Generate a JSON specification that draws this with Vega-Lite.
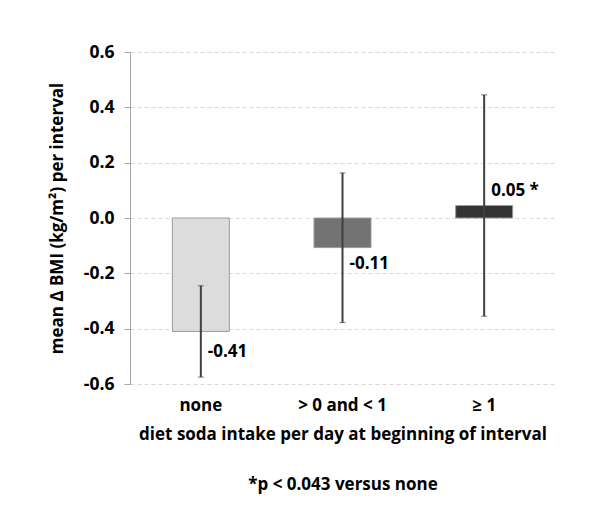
{
  "$schema": "https://vega.github.io/schema/vega-lite/v6.json",
  "width": 425,
  "height": 332,
  "autosize": {"type": "none"},
  "padding": {"left": 130, "top": 52, "right": 45, "bottom": 130},
  "background": "white",
  "config": {
    "view": {"stroke": null},
    "font": "Open Sans",
    "axis": {"labelFont": "Open Sans", "titleFont": "Open Sans", "labelFontWeight": "bold", "titleFontWeight": "bold", "labelColor": "#000", "titleColor": "#000"}
  },
  "data": {
    "values": [
      {"cat": "none", "value": -0.41, "lo": -0.575, "hi": -0.245, "label": "-0.41", "label_y": -0.485},
      {"cat": "> 0 and < 1", "value": -0.107, "lo": -0.378, "hi": 0.163, "label": "-0.11", "label_y": -0.167},
      {"cat": "≥ 1", "value": 0.045, "lo": -0.355, "hi": 0.445, "label": "0.05 *", "label_y": 0.098}
    ]
  },
  "encoding": {
    "x": {
      "field": "cat", "type": "nominal", "sort": null,
      "scale": {"paddingInner": 0, "paddingOuter": 0},
      "axis": {
        "labelAngle": 0, "labelFontSize": 17, "labelPadding": 13, "ticks": false, "tickSize": 0, "domain": false,
        "title": ["diet soda intake per day at beginning of interval", "*p < 0.043 versus none"],
        "titleFontSize": 17, "titlePadding": 13, "titleLineHeight": 50
      }
    }
  },
  "layer": [
    {
      "mark": {"type": "bar", "size": 57, "stroke": "#9a9a9a", "strokeWidth": 1},
      "encoding": {
        "y": {
          "field": "value", "type": "quantitative",
          "scale": {"domain": [-0.6, 0.6], "nice": false, "zero": false},
          "title": "mean Δ BMI (kg/m²) per interval",
          "axis": {
            "values": [-0.6, -0.4, -0.2, 0, 0.2, 0.4, 0.6],
            "labelExpr": "replace(format(datum.value, '.1f'), '\u2212', '-')",
            "labelFontSize": 17.5, "labelPadding": 10, "tickSize": 6, "tickColor": "#a6a6a6",
            "domainColor": "#a6a6a6", "grid": true, "gridDash": [4, 3], "gridColor": "#d9d9d9",
            "titleFontSize": 17, "titlePadding": 17
          }
        },
        "fill": {
          "field": "cat", "type": "nominal", "sort": null, "legend": null,
          "scale": {"range": ["#dcdcdc", "#737373", "#333333"]}
        }
      }
    },
    {
      "mark": {"type": "errorbar", "ticks": {"size": 6, "color": "#404040", "strokeWidth": 1.5}, "rule": {"color": "#404040", "strokeWidth": 2}},
      "encoding": {
        "y": {"field": "lo", "type": "quantitative", "title": "mean Δ BMI (kg/m²) per interval"},
        "y2": {"field": "hi"}
      }
    },
    {
      "mark": {"type": "text", "align": "left", "baseline": "middle", "dx": 7, "fontSize": 17, "fontWeight": "bold", "color": "#000", "font": "Open Sans"},
      "encoding": {
        "y": {"field": "label_y", "type": "quantitative", "title": "mean Δ BMI (kg/m²) per interval"},
        "text": {"field": "label"}
      }
    }
  ]
}
